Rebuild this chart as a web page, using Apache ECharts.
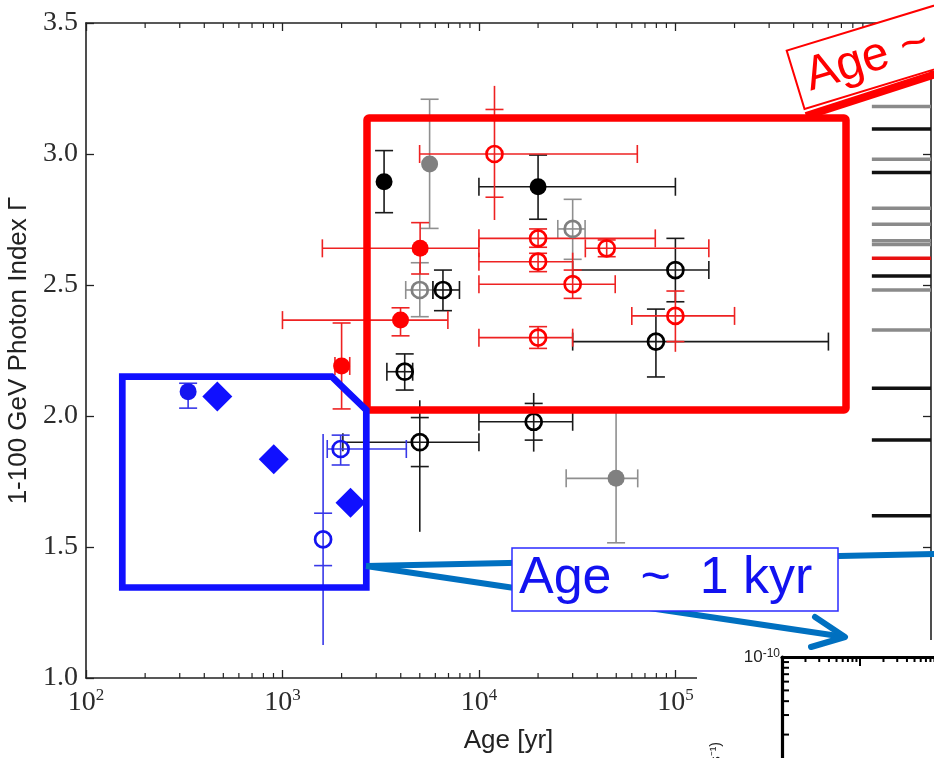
<!DOCTYPE html>
<html>
<head>
<meta charset="utf-8">
<title>1-100 GeV Photon Index vs Age</title>
<script src="https://cdn.jsdelivr.net/npm/echarts@6.0.0/dist/echarts.min.js"></script>
<style>
  html, body { margin: 0; padding: 0; background: #fff; }
  #main { width: 934px; height: 758px; }
</style>
</head>
<body>
<div id="main"></div>
<script>
  // axis ranges
  const ageMin = 100
  const ageMax = 2e6
  const gammaMin = 1.0
  const gammaMax = 3.5

  // minor ticks of the log age axis (2..9 x 10^n)
  const minorTickAges = [200, 300, 400, 500, 600, 700, 800, 900,
    2000, 3000, 4000, 5000, 6000, 7000, 8000, 9000,
    20000, 30000, 40000, 50000, 60000, 70000, 80000, 90000,
    200000, 300000, 400000, 500000, 600000, 700000, 800000, 900000]

  // rows: [age, gamma, ageLo, ageHi, gammaLo, gammaHi, (gammaLineLo, gammaLineHi)]
  const blackFilled = [
    [3290, 2.894, null, null, 2.776, 3.013],
    [20000, 2.875, 10000, 100000, 2.751, 2.996]
  ]
  const blackOpen = [
    [6560, 2.481, 5830, 7960, 2.402, 2.557],
    [4190, 2.169, 3400, 4600, 2.099, 2.237],
    [5000, 1.900, 2030, 10000, 1.807, 1.994, 1.558, 2.06],
    [19000, 1.978, 10000, 30000, 1.908, 2.048, 1.864, 2.088],
    [100000, 2.557, 30000, 148000, 2.436, 2.678],
    [79600, 2.284, 30000, 601000, 2.149, 2.408]
  ]
  const grayFilled = [
    [5610, 2.962, null, null, 2.716, 3.209],
    [49900, 1.762, 27800, 64300, 1.516, 2.03]
  ]
  const grayOpen = [
    [30000, 2.714, 25200, 34700, 2.598, 2.827],
    [5000, 2.481, 4240, 5830, 2.379, 2.585]
  ]
  const redFilled = [
    [5020, 2.640, 1596, 10000, 2.542, 2.738],
    [3990, 2.366, 1000, 6950, 2.306, 2.413],
    [2000, 2.191, 1850, 2200, 2.027, 2.355]
  ]
  const redOpen = [
    [12000, 3.000, 4990, 64000, 2.835, 3.170, 2.748, 3.260],
    [20000, 2.678, 10000, 79000, 2.644, 2.714],
    [44700, 2.640, 34800, 148000, 2.608, 2.672],
    [20000, 2.589, 10000, 30000, 2.551, 2.621],
    [30000, 2.503, 10000, 49400, 2.449, 2.557],
    [20000, 2.299, 10000, 30000, 2.258, 2.341],
    [100000, 2.382, 60000, 200000, 2.284, 2.477, 2.245, 2.477]
  ]
  const blueFilled = [
    [331, 2.093, null, null, 2.030, 2.125]
  ]
  const blueOpen = [
    [1978, 1.874, 1690, 4270, 1.813, 1.927],
    [1610, 1.529, null, null, 1.429, 1.629, 1.126, 1.931]
  ]
  const blueDiamond = [[466, 2.074], [903, 1.835], [2220, 1.669]]

  // sources without age, drawn as short bars at the right edge
  const noAgeFrom = 1e6
  const noAgeGray = [3.181, 2.980, 2.793, 2.732, 2.669, 2.655, 2.481, 2.328]
  const noAgeBlack = [3.095, 2.929, 2.534, 2.106, 1.908, 1.619]
  const noAgeRed = [2.602]

  // inset (SED panel, mostly hidden)
  const insetXMin = 0.1
  const insetXMax = 100
  const insetYMin = 1e-12
  const insetYMax = 1e-10
  const insetMinorX = [0.2, 0.3, 0.4, 0.5, 0.6, 0.7, 0.8, 0.9, 2, 3, 4, 5, 6, 7, 8, 9, 20, 30, 40, 50, 60, 70, 80, 90]
  const insetMinorY = [2e-11, 3e-11, 4e-11, 5e-11, 6e-11, 7e-11, 8e-11, 9e-11]

  function ok(v) {
    return v != null && isFinite(v)
  }

  function pad(r) {
    let out = []
    for (let i = 0; i < 8; i++) out.push(r[i] == null ? null : r[i])
    return out
  }

  // error bars with caps
  function errSeries(rows, color) {
    return {
      type: 'custom',
      xAxisIndex: 0,
      yAxisIndex: 0,
      z: 2,
      silent: true,
      data: rows.map(pad),
      encode: {x: 0, y: 1},
      renderItem: function (params, api) {
        let x = api.value(0), y = api.value(1)
        let st = {stroke: color, lineWidth: 1.6}
        let cap = 9
        let kids = []
        let xlo = api.value(2), xhi = api.value(3)
        if (ok(xlo) && ok(xhi)) {
          let a = api.coord([xlo, y]), b = api.coord([xhi, y])
          kids.push({type: 'line', shape: {x1: a[0], y1: a[1], x2: b[0], y2: b[1]}, style: st})
          kids.push({type: 'line', shape: {x1: a[0], y1: a[1] - cap, x2: a[0], y2: a[1] + cap}, style: st})
          kids.push({type: 'line', shape: {x1: b[0], y1: b[1] - cap, x2: b[0], y2: b[1] + cap}, style: st})
        }
        let ylo = api.value(4), yhi = api.value(5)
        if (ok(ylo) && ok(yhi)) {
          let l1 = ok(api.value(6)) ? Math.min(api.value(6), ylo) : ylo
          let l2 = ok(api.value(7)) ? Math.max(api.value(7), yhi) : yhi
          let p = api.coord([x, l1]), q = api.coord([x, l2])
          kids.push({type: 'line', shape: {x1: p[0], y1: p[1], x2: q[0], y2: q[1]}, style: st})
          let c = api.coord([x, ylo]), d = api.coord([x, yhi])
          kids.push({type: 'line', shape: {x1: c[0] - cap, y1: c[1], x2: c[0] + cap, y2: c[1]}, style: st})
          kids.push({type: 'line', shape: {x1: d[0] - cap, y1: d[1], x2: d[0] + cap, y2: d[1]}, style: st})
        }
        return {type: 'group', children: kids}
      }
    }
  }

  function markerSeries(rows, symbol, size, fill, stroke, bw) {
    return {
      type: 'scatter',
      xAxisIndex: 0,
      yAxisIndex: 0,
      z: 3,
      silent: true,
      symbol: symbol,
      symbolSize: size,
      itemStyle: {color: fill, borderColor: stroke, borderWidth: bw, opacity: 1},
      data: rows.map(function (r) { return [r[0], r[1]] })
    }
  }

  function noAgeSeries(vals, color) {
    return {
      type: 'custom',
      xAxisIndex: 0,
      yAxisIndex: 0,
      z: 2,
      silent: true,
      data: vals.map(function (g) { return [noAgeFrom, g] }),
      encode: {x: 0, y: 1},
      renderItem: function (params, api) {
        let a = api.coord([noAgeFrom, api.value(1)])
        let b = api.coord([ageMax, api.value(1)])
        return {type: 'line', shape: {x1: a[0], y1: a[1], x2: b[0], y2: b[1]}, style: {stroke: color, lineWidth: 3.5}}
      }
    }
  }

  let powRich = {
    b: {fontFamily: 'Liberation Serif', fontSize: 28, color: '#2b2b2b', verticalAlign: 'bottom', lineHeight: 30},
    s: {fontFamily: 'Liberation Serif', fontSize: 17, color: '#2b2b2b', verticalAlign: 'top', lineHeight: 17}
  }
  let axisColor = '#222'

  let myChart = echarts.init(document.getElementById('main'), null, {renderer: 'canvas'})

  myChart.setOption({
    animation: false,
    backgroundColor: '#fff',
    grid: [
      {left: 86, top: 23, width: 845, height: 655, outerBoundsMode: 'none', containLabel: false},
      {left: 782, top: 657, width: 234, height: 222, outerBoundsMode: 'none', containLabel: false}
    ],
    xAxis: [
      {
        type: 'log', logBase: 10, gridIndex: 0, position: 'bottom', min: ageMin, max: ageMax,
        name: 'Age [yr]', nameLocation: 'middle', nameGap: 50,
        nameTextStyle: {fontFamily: 'Liberation Sans', fontSize: 26, color: axisColor},
        axisLine: {show: true, onZero: false, lineStyle: {color: axisColor, width: 1.6}},
        axisTick: {show: true, inside: true, length: 8, lineStyle: {color: axisColor, width: 1.3}},
        axisLabel: {
          margin: 9,
          fontFamily: 'Liberation Serif', fontSize: 28, color: '#2b2b2b',
          formatter: function (v) {
            if (v > 1.01e5) return ''
            return '{b|10}{s|' + Math.round(Math.log10(v)) + '}'
          },
          rich: powRich
        },
        splitLine: {show: false}
      },
      {
        type: 'log', logBase: 10, gridIndex: 0, position: 'top', min: ageMin, max: ageMax,
        axisLine: {show: true, onZero: false, lineStyle: {color: axisColor, width: 1.6}},
        axisTick: {show: true, inside: true, length: 8, lineStyle: {color: axisColor, width: 1.3}},
        axisLabel: {show: false},
        splitLine: {show: false}
      },
      {
        type: 'log', logBase: 10, gridIndex: 1, position: 'top', min: insetXMin, max: insetXMax, z: 150,
        axisLine: {show: true, onZero: false, lineStyle: {color: '#000', width: 3.2}},
        axisTick: {show: true, inside: true, length: 9, lineStyle: {color: '#000', width: 2}},
        axisLabel: {show: false},
        splitLine: {show: false}
      }
    ],
    yAxis: [
      {
        type: 'value', gridIndex: 0, position: 'left', min: gammaMin, max: gammaMax, interval: 0.5,
        name: '1-100 GeV Photon Index Γ', nameLocation: 'middle', nameGap: 45,
        nameTextStyle: {fontFamily: 'Liberation Sans', fontSize: 26, color: axisColor},
        axisLine: {show: true, onZero: false, lineStyle: {color: axisColor, width: 1.6}},
        axisTick: {show: true, inside: true, length: 8, lineStyle: {color: axisColor, width: 1.3}},
        axisLabel: {
          margin: 8, fontFamily: 'Liberation Serif', fontSize: 28, color: '#2b2b2b',
          formatter: function (v) { return v.toFixed(1) }
        },
        splitLine: {show: false}
      },
      {
        type: 'value', gridIndex: 0, position: 'right', min: gammaMin, max: gammaMax, interval: 0.5,
        axisLine: {show: true, onZero: false, lineStyle: {color: axisColor, width: 1.6}},
        axisTick: {show: true, inside: true, length: 8, lineStyle: {color: axisColor, width: 1.3}},
        axisLabel: {show: false},
        splitLine: {show: false}
      },
      {
        type: 'log', logBase: 10, gridIndex: 1, position: 'left', min: insetYMin, max: insetYMax, z: 150,
        axisLine: {show: true, onZero: false, lineStyle: {color: '#000', width: 3.2}},
        axisTick: {show: true, inside: true, length: 7, lineStyle: {color: '#000', width: 2}},
        axisLabel: {
          margin: 2,
          fontFamily: 'Liberation Sans', fontSize: 17, color: '#222',
          formatter: function (v) {
            return Math.round(Math.log10(v)) === -10 ? '{b|10}{s|-10}' : ''
          },
          rich: {
            b: {fontFamily: 'Liberation Sans', fontSize: 17, color: '#222', verticalAlign: 'bottom', lineHeight: 18},
            s: {fontFamily: 'Liberation Sans', fontSize: 12, color: '#222', verticalAlign: 'top', lineHeight: 12}
          }
        },
        splitLine: {show: false}
      }
    ],
    series: [
      // minor ticks, bottom and top
      {
        type: 'custom', xAxisIndex: 0, yAxisIndex: 0, z: 1, silent: true,
        data: minorTickAges.map(function (v) { return [v, gammaMin] }),
        encode: {x: 0, y: 1},
        renderItem: function (params, api) {
          let b = api.coord([api.value(0), gammaMin])
          let t = api.coord([api.value(0), gammaMax])
          let st = {stroke: axisColor, lineWidth: 1.2}
          return {type: 'group', children: [
            {type: 'line', shape: {x1: b[0], y1: b[1], x2: b[0], y2: b[1] - 5}, style: st},
            {type: 'line', shape: {x1: t[0], y1: t[1], x2: t[0], y2: t[1] + 5}, style: st}
          ]}
        }
      },
      noAgeSeries(noAgeGray, '#8a8a8a'),
      noAgeSeries(noAgeBlack, '#111'),
      noAgeSeries(noAgeRed, '#e81010'),

      errSeries(grayFilled, '#8f8f8f'),
      errSeries(grayOpen, '#8f8f8f'),
      errSeries(blackFilled, '#1a1a1a'),
      errSeries(blackOpen, '#1a1a1a'),
      errSeries(redFilled, '#ee2222'),
      errSeries(redOpen, '#ee2222'),
      errSeries(blueFilled, '#3838e8'),
      errSeries(blueOpen, '#3838e8'),

      markerSeries(grayFilled, 'circle', 17, '#808080', '#808080', 0),
      markerSeries(grayOpen, 'circle', 16, 'rgba(0,0,0,0)', '#808080', 2.7),
      markerSeries(blackFilled, 'circle', 17, '#000', '#000', 0),
      markerSeries(blackOpen, 'circle', 16, 'rgba(0,0,0,0)', '#000', 2.7),
      markerSeries(redFilled, 'circle', 17, '#ff0000', '#ff0000', 0),
      markerSeries(redOpen, 'circle', 16, 'rgba(0,0,0,0)', '#ff0000', 2.7),
      markerSeries(blueFilled, 'circle', 17, '#1414f0', '#1414f0', 0),
      markerSeries(blueOpen, 'circle', 16, 'rgba(0,0,0,0)', '#1414f0', 2.7),
      markerSeries(blueDiamond, 'diamond', 30, '#1010ff', '#1010ff', 0),

      // inset minor ticks
      {
        type: 'custom', xAxisIndex: 2, yAxisIndex: 2, z: 150, silent: true,
        data: insetMinorX.map(function (v) { return [v, insetYMax] }),
        encode: {x: 0, y: 1},
        renderItem: function (params, api) {
          let p = api.coord([api.value(0), insetYMax])
          return {type: 'line', shape: {x1: p[0], y1: p[1], x2: p[0], y2: p[1] + 5}, style: {stroke: '#000', lineWidth: 2}}
        }
      },
      {
        type: 'custom', xAxisIndex: 2, yAxisIndex: 2, z: 150, silent: true,
        data: insetMinorY.map(function (v) { return [insetXMin, v] }),
        encode: {x: 0, y: 1},
        renderItem: function (params, api) {
          let p = api.coord([insetXMin, api.value(1)])
          return {type: 'line', shape: {x1: p[0], y1: p[1], x2: p[0] + 7, y2: p[1]}, style: {stroke: '#000', lineWidth: 2}}
        }
      }
    ],
    graphic: [
      // white cover where the inset sits
      {type: 'rect', z: 30, silent: true, shape: {x: 697, y: 640, width: 240, height: 120}, style: {fill: '#fff'}},
      // red box and its connector
      {type: 'rect', z: 40, silent: true, shape: {x: 367, y: 118, width: 479, height: 292, r: 2},
        style: {fill: 'none', stroke: '#ff0000', lineWidth: 7.5}},
      {type: 'polyline', z: 44, silent: true, shape: {points: [[806, 116], [936, 74]]},
        style: {stroke: '#ff0000', lineWidth: 8}},
      {
        type: 'group', z: 45, x: 786.7, y: 50.7, rotation: 17 * Math.PI / 180,
        children: [
          {type: 'rect', z: 45, silent: true, shape: {x: 0, y: 0, width: 240, height: 61},
            style: {fill: '#fff', stroke: '#ff0000', lineWidth: 2}},
          {type: 'text', z: 46, silent: true, x: 11, y: 32,
            style: {text: 'Age ~', fontFamily: 'Liberation Sans', fontSize: 48, fill: '#ff0000',
              align: 'left', verticalAlign: 'middle', textAlign: 'left', textVerticalAlign: 'middle'}}
        ]
      },
      // blue box and its connectors
      {type: 'polygon', z: 40, silent: true,
        shape: {points: [[122.3, 376.7], [331.7, 376.7], [366.3, 410], [366.3, 587.5], [122.3, 587.5]]},
        style: {fill: 'none', stroke: '#1010ff', lineWidth: 6.7}},
      {type: 'polyline', z: 40, silent: true, shape: {points: [[366, 566], [936, 554]]},
        style: {stroke: '#0070c0', lineWidth: 6}},
      {type: 'polyline', z: 40, silent: true, shape: {points: [[366, 566], [845, 637]]},
        style: {stroke: '#0070c0', lineWidth: 6}},
      {type: 'polyline', z: 40, silent: true, shape: {points: [[815, 617], [845, 637], [811, 647]]},
        style: {stroke: '#0070c0', lineWidth: 6, lineCap: 'round', lineJoin: 'round'}},
      {type: 'rect', z: 45, silent: true, shape: {x: 512, y: 548, width: 326, height: 63},
        style: {fill: '#fff', stroke: '#2b2bff', lineWidth: 1.5}},
      {type: 'text', z: 46, silent: true, x: 519, y: 579,
        style: {text: 'Age  ~  1 kyr', fontFamily: 'Liberation Sans', fontSize: 52, fill: '#1212f0',
          align: 'left', verticalAlign: 'middle', textAlign: 'left', textVerticalAlign: 'middle'}},
      // inset y-axis title, mostly off the page
      {type: 'text', z: 160, silent: true, x: 716, y: 742, rotation: Math.PI / 2,
        style: {text: 'E² dN/dE (erg cm⁻² s⁻¹)', fontFamily: 'Liberation Sans', fontSize: 14, fill: '#222',
          align: 'right', verticalAlign: 'middle', textAlign: 'right', textVerticalAlign: 'middle'}}
    ]
  })
</script>
</body>
</html>
